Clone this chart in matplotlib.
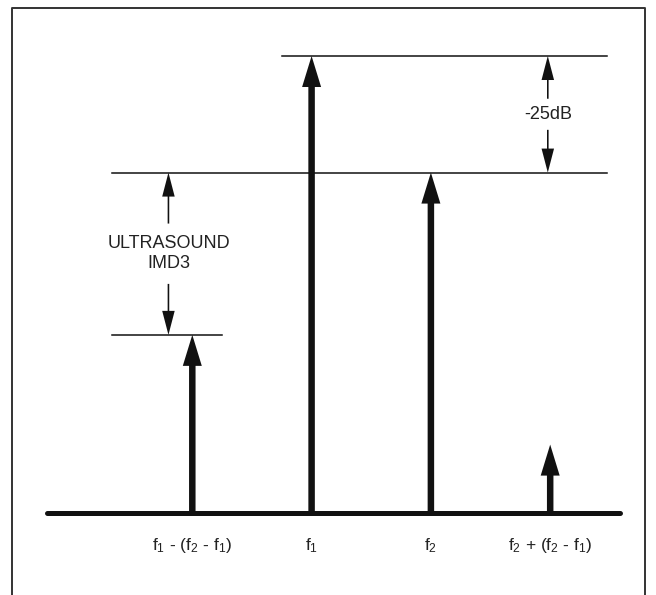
import matplotlib
matplotlib.use('Agg')
from matplotlib import pyplot as plt
from matplotlib.patches import FancyArrow

plt.rcParams['font.family'] = ['Liberation Sans Narrow', 'Liberation Sans', 'DejaVu Sans']
plt.rcParams['mathtext.default'] = 'regular'

# 频率位置（任意单位）与各音调的相对幅度
tone_pos = [1, 2, 3, 4]
tone_amp = [0.39, 1.0, 0.745, 0.15]
tone_labels = ['f$_1$ - (f$_2$ - f$_1$)', 'f$_1$', 'f$_2$', 'f$_2$ + (f$_2$ - f$_1$)']

# 参考水平线: (幅度, 起点, 终点)
ref_levels = [1.0, 0.745, 0.39]
ref_start = [1.75, 0.33, 0.33]
ref_end = [4.48, 4.48, 1.25]

# 尺寸标注: (x, 下沿, 上沿, 文字)
dim_x = [0.80, 3.98]
dim_lo = [0.39, 0.745]
dim_hi = [0.745, 1.0]
dim_text = ['ULTRASOUND\nIMD3', '-25dB']
dim_gap = [0.066, 0.034]

W, H = 656, 595
xmin, xmax = -0.612, 4.887
ymin, ymax = -0.179, 1.1225

fig = plt.figure(figsize=(W / 100, H / 100), dpi=100)
ax = fig.add_axes([0, 0, 1, 1])
ax.set_xlim(xmin, xmax)
ax.set_ylim(ymin, ymax)
ax.axis('off')

# 像素 -> 数据单位
px_x = (xmax - xmin) / W
px_y = (ymax - ymin) / H

# 外框
fx0, fx1, fy1 = 12 / W, 645 / W, 1 - 8 / H
ax.plot([fx0, fx0, fx1, fx1], [-0.05, fy1, fy1, -0.05], transform=ax.transAxes,
        color='#333333', lw=1.4, clip_on=False)

# 基线
ax.plot([-0.22, 4.585], [0, 0], color='#111111', lw=3.6, solid_capstyle='round')

# 参考线
for lv, s, e in zip(ref_levels, ref_start, ref_end):
    ax.plot([s, e], [lv, lv], color='#111111', lw=1.1)


def varrow(x, y0, y1, shaft, head_w, head_l):
    ax.add_patch(FancyArrow(x, y0, 0, y1 - y0, width=shaft * px_x,
                            head_width=head_w * px_x, head_length=head_l * px_y,
                            length_includes_head=True, color='#111111', lw=0))


# 音调箭头
for x, a, lab in zip(tone_pos, tone_amp, tone_labels):
    varrow(x, 0, a, 6.5, 19, 31)
    ax.text(x, -32 * px_y, lab, ha='center', va='center', fontsize=12.5, color='#222222')

# 尺寸标注箭头
for x, lo, hi, t, g in zip(dim_x, dim_lo, dim_hi, dim_text, dim_gap):
    mid = (lo + hi) / 2
    varrow(x, mid + g, hi, 1.6, 12.5, 24)
    varrow(x, mid - g, lo, 1.6, 12.5, 24)
    ax.text(x, mid, t, ha='center', va='center', fontsize=13, color='#222222',
            linespacing=1.2)

fig.savefig('out.png', dpi=100)
